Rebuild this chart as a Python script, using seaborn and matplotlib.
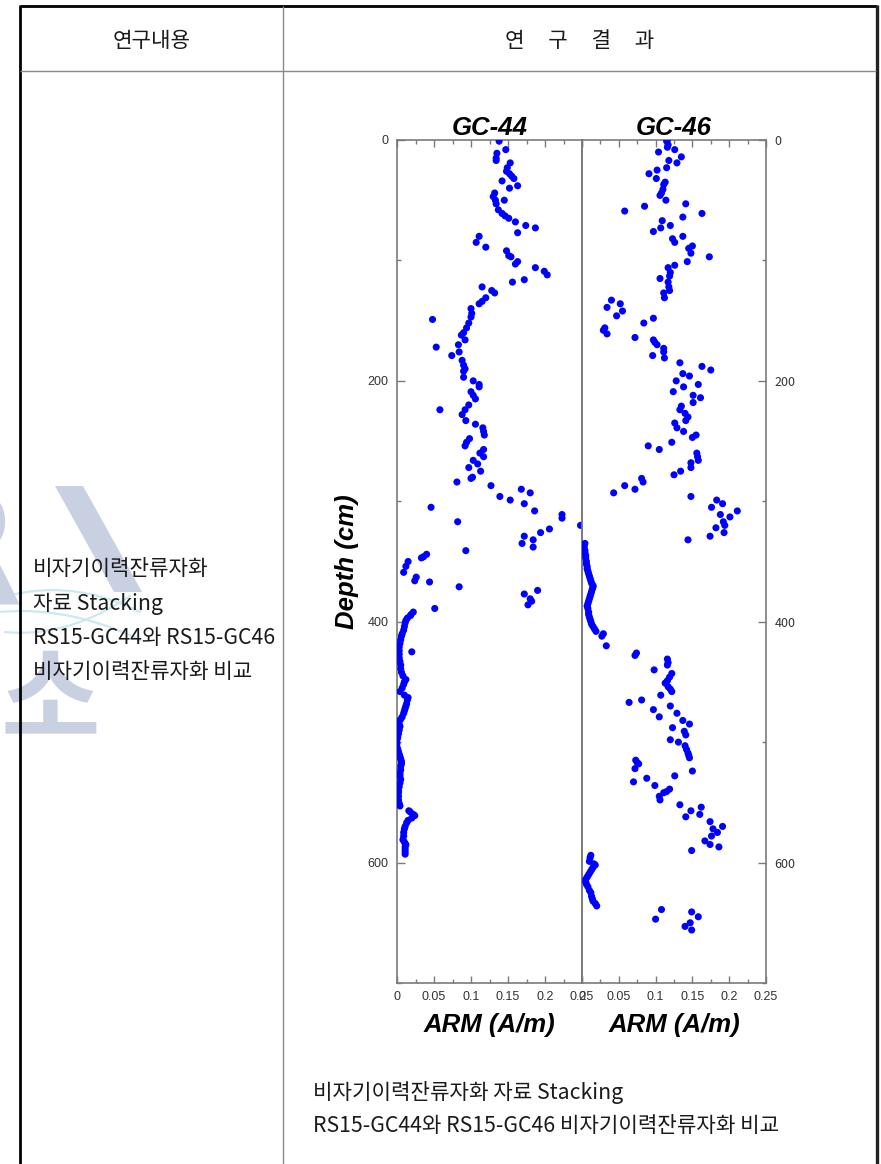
import numpy as np
import pandas as pd
import matplotlib
matplotlib.use("Agg")
import matplotlib.pyplot as plt
import seaborn as sns
from matplotlib.lines import Line2D
from matplotlib.patches import Polygon
from matplotlib.ticker import MultipleLocator, FormatStrFormatter

# ---------------------------------------------------------------- data
# RS15-GC44 : depth (cm) and ARM (A/m)
gc44_depth = [1, 8, 11, 15, 17, 19, 23, 26, 28, 30, 32, 34, 38, 40, 44, 47, 50, 50, 53,
              58, 61, 63, 65, 68, 71, 73, 77, 80, 85, 89, 92, 96, 97, 101, 103, 106, 109,
              112, 116, 118, 122, 125, 127, 131, 134, 136, 140, 144, 147, 149, 152, 156,
              160, 162, 166, 170, 172, 176, 179, 183, 187, 190, 192, 197, 200, 203, 205,
              209, 212, 215, 220, 224, 224, 228, 233, 236, 239, 242, 245, 248, 251, 254,
              257, 260, 263, 266, 269, 272, 275, 280, 281, 284, 287, 290, 293, 296, 299,
              302, 305, 308, 311, 314, 317, 320, 323, 326, 329, 332, 335, 338, 341, 344,
              346, 347, 350, 354, 359, 363, 366, 367, 371, 374, 377, 381, 383, 386, 389,
              392, 394, 395, 397, 399, 401, 404, 407, 410, 412, 415, 418, 421, 425, 424,
              427, 430, 433, 436, 439, 442, 445, 448, 450, 452, 455, 458, 461, 463, 465,
              468, 470, 472, 474, 476, 479, 481, 483, 485, 487, 490, 493, 496, 498, 501,
              504, 506, 508, 510, 512, 514, 516, 518, 520, 523, 526, 528, 531, 534, 537,
              540, 542, 545, 548, 551, 553, 557, 558, 560, 561, 563, 565, 567, 570, 572,
              575, 578, 581, 583, 585, 587, 589, 591, 593]
gc44_arm = [0.138, 0.147, 0.135, 0.134, 0.134, 0.153, 0.149, 0.148, 0.152, 0.155, 0.158,
            0.142, 0.163, 0.152, 0.132, 0.130, 0.133, 0.145, 0.134, 0.137, 0.142, 0.146,
            0.151, 0.160, 0.174, 0.187, 0.163, 0.111, 0.107, 0.120, 0.148, 0.151, 0.154,
            0.163, 0.160, 0.187, 0.199, 0.203, 0.172, 0.156, 0.115, 0.128, 0.132, 0.120,
            0.115, 0.111, 0.100, 0.101, 0.100, 0.048, 0.097, 0.094, 0.090, 0.087, 0.092,
            0.083, 0.053, 0.084, 0.074, 0.088, 0.090, 0.092, 0.090, 0.090, 0.103, 0.111,
            0.111, 0.100, 0.103, 0.106, 0.097, 0.092, 0.058, 0.088, 0.093, 0.106, 0.116,
            0.117, 0.118, 0.098, 0.094, 0.092, 0.117, 0.112, 0.117, 0.103, 0.109, 0.097,
            0.113, 0.102, 0.100, 0.081, 0.127, 0.168, 0.180, 0.139, 0.153, 0.172, 0.046,
            0.186, 0.223, 0.223, 0.082, 0.248, 0.206, 0.194, 0.172, 0.184, 0.169, 0.184,
            0.093, 0.040, 0.036, 0.033, 0.015, 0.012, 0.009, 0.026, 0.024, 0.044, 0.084,
            0.190, 0.172, 0.180, 0.182, 0.177, 0.051, 0.022, 0.019, 0.018, 0.014, 0.012,
            0.011, 0.010, 0.009, 0.007, 0.006, 0.005, 0.004, 0.003, 0.020, 0.003, 0.003,
            0.003, 0.004, 0.005, 0.005, 0.006, 0.008, 0.012, 0.010, 0.009, 0.007, 0.004,
            0.010, 0.015, 0.014, 0.013, 0.012, 0.011, 0.010, 0.009, 0.007, 0.005, 0.002,
            0.003, 0.004, 0.003, 0.002, 0.001, 0.000, 0.000, 0.000, 0.001, 0.002, 0.003,
            0.004, 0.005, 0.006, 0.006, 0.005, 0.005, 0.004, 0.004, 0.005, 0.004, 0.003,
            0.002, 0.002, 0.002, 0.002, 0.003, 0.004, 0.016, 0.018, 0.022, 0.024, 0.020,
            0.015, 0.013, 0.011, 0.010, 0.009, 0.009, 0.008, 0.010, 0.012, 0.011, 0.011,
            0.011, 0.011]

# RS15-GC46 : depth (cm) and ARM (A/m)
gc46_depth = [0, 1, 4, 6, 8, 10, 14, 17, 19, 23, 25, 28, 32, 35, 37, 41, 44, 46, 50, 53,
              55, 59, 61, 64, 67, 71, 73, 76, 80, 82, 85, 88, 90, 94, 97, 101, 104, 106,
              110, 113, 115, 118, 122, 125, 127, 131, 133, 136, 139, 142, 146, 148, 152,
              156, 158, 161, 164, 166, 168, 170, 173, 176, 179, 181, 185, 188, 191, 194,
              196, 200, 203, 205, 209, 212, 214, 218, 221, 224, 227, 230, 233, 235, 239,
              242, 245, 247, 251, 254, 257, 260, 263, 266, 268, 272, 275, 278, 281, 284,
              287, 290, 293, 296, 299, 302, 305, 308, 311, 313, 317, 320, 322, 326, 329,
              332, 335, 337, 339, 341, 343, 345, 347, 350, 352, 354, 356, 358, 360, 362,
              364, 366, 368, 370, 371, 373, 375, 377, 379, 381, 383, 385, 387, 389, 392,
              394, 396, 398, 400, 402, 404, 406, 408, 410, 412, 420, 426, 428, 431, 434,
              436, 440, 443, 446, 449, 451, 454, 456, 458, 461, 465, 467, 470, 473, 476,
              479, 482, 485, 488, 491, 494, 498, 500, 503, 506, 509, 511, 513, 515, 517,
              518, 522, 524, 528, 530, 533, 536, 539, 541, 542, 545, 548, 552, 554, 557,
              560, 562, 566, 570, 572, 575, 578, 582, 585, 587, 590, 594, 596, 599, 601,
              602, 604, 606, 608, 610, 612, 614, 616, 618, 620, 623, 625, 628, 630, 632,
              634, 636, 639, 641, 645, 647, 650, 653, 656]
gc46_arm = [0.116, 0.115, 0.117, 0.116, 0.126, 0.104, 0.135, 0.118, 0.129, 0.115, 0.102,
            0.091, 0.101, 0.113, 0.111, 0.110, 0.108, 0.106, 0.114, 0.141, 0.085, 0.058,
            0.163, 0.137, 0.109, 0.120, 0.107, 0.097, 0.137, 0.123, 0.126, 0.150, 0.145,
            0.148, 0.173, 0.143, 0.126, 0.117, 0.120, 0.119, 0.106, 0.117, 0.118, 0.119,
            0.111, 0.112, 0.040, 0.052, 0.034, 0.055, 0.047, 0.097, 0.084, 0.031, 0.029,
            0.034, 0.072, 0.097, 0.099, 0.102, 0.111, 0.111, 0.096, 0.112, 0.133, 0.163,
            0.175, 0.137, 0.146, 0.128, 0.158, 0.138, 0.124, 0.151, 0.161, 0.151, 0.135,
            0.133, 0.140, 0.144, 0.141, 0.126, 0.129, 0.138, 0.155, 0.150, 0.122, 0.090,
            0.105, 0.156, 0.157, 0.158, 0.148, 0.148, 0.134, 0.125, 0.081, 0.083, 0.058,
            0.072, 0.043, 0.148, 0.183, 0.191, 0.176, 0.211, 0.188, 0.201, 0.192, 0.194,
            0.182, 0.193, 0.174, 0.144, 0.004, 0.003, 0.003, 0.004, 0.004, 0.005, 0.005,
            0.006, 0.006, 0.007, 0.007, 0.008, 0.009, 0.010, 0.011, 0.012, 0.013, 0.015,
            0.015, 0.014, 0.013, 0.012, 0.011, 0.010, 0.009, 0.008, 0.007, 0.008, 0.009,
            0.009, 0.010, 0.011, 0.012, 0.013, 0.015, 0.017, 0.019, 0.029, 0.027, 0.033,
            0.074, 0.072, 0.116, 0.117, 0.116, 0.098, 0.122, 0.119, 0.116, 0.113, 0.117,
            0.120, 0.122, 0.107, 0.081, 0.064, 0.120, 0.097, 0.129, 0.105, 0.137, 0.146,
            0.123, 0.139, 0.141, 0.120, 0.131, 0.140, 0.142, 0.144, 0.145, 0.146, 0.073,
            0.075, 0.077, 0.072, 0.150, 0.126, 0.088, 0.070, 0.099, 0.119, 0.115, 0.111,
            0.105, 0.106, 0.133, 0.162, 0.148, 0.160, 0.141, 0.174, 0.191, 0.178, 0.184,
            0.176, 0.167, 0.174, 0.186, 0.149, 0.012, 0.011, 0.010, 0.016, 0.018, 0.015,
            0.013, 0.011, 0.009, 0.007, 0.005, 0.005, 0.006, 0.008, 0.010, 0.012, 0.013,
            0.014, 0.015, 0.018, 0.020, 0.108, 0.149, 0.158, 0.100, 0.147, 0.140, 0.149]

core_titles = ["GC-44", "GC-46"]
depth_ticks = [0, 200, 400, 600]
arm_ticks = [0, 0.05, 0.1, 0.15, 0.2, 0.25]

header_left = "연구내용"
header_right = "연     구     결     과"
body_lines = ["비자기이력잔류자화", "자료 Stacking",
              "RS15-GC44와 RS15-GC46", "비자기이력잔류자화 비교"]
caption_lines = ["비자기이력잔류자화 자료 Stacking",
                 "RS15-GC44와 RS15-GC46 비자기이력잔류자화 비교"]

# ---------------------------------------------------------------- style
sns.set_theme(style="white")
plt.rcParams["font.family"] = ["Noto Sans CJK KR", "DejaVu Sans"]
LAT = ["Liberation Sans", "DejaVu Sans"]
KOR = ["Noto Sans CJK KR", "DejaVu Sans"]

W, H = 881, 1164
fig = plt.figure(figsize=(W / 100, H / 100), dpi=100)
fig.patch.set_facecolor("white")


def fx(px):
    return px / W


def fy(py):
    return 1 - py / H


# ---------------------------------------------------------------- faint logo behind the left column
wm = "#c9d0e2"
fig.text(fx(22), fy(604), "R", ha="right", va="baseline", fontsize=112,
         fontweight="bold", color=wm, family=["DejaVu Sans"], zorder=0)
fig.add_artist(Polygon([(fx(55), fy(486)), (fx(83), fy(486)), (fx(142), fy(592)),
                        (fx(114), fy(592))], closed=True, transform=fig.transFigure,
                       facecolor=wm, edgecolor="none", zorder=0))
fig.text(fx(50), fy(704), "소", ha="center", va="center", fontsize=78,
         fontweight="bold", color=wm, family=KOR, zorder=0)
t = np.linspace(0, 1, 60)
for (x0, y0, x1, y1, bow) in [(0, 598, 140, 612, -14), (0, 612, 140, 640, -10),
                              (5, 632, 130, 596, 12)]:
    xs = x0 + (x1 - x0) * t
    ys = y0 + (y1 - y0) * t + bow * 4 * t * (1 - t)
    fig.add_artist(Line2D(fx(xs), fy(ys), transform=fig.transFigure,
                          color="#cde8f2", lw=1.6, zorder=0))

# ---------------------------------------------------------------- table frame
frame = [((19.5, 6), (877, 6), "black", 2.0),
         ((19.5, 5), (19.5, 1164), "black", 2.0),
         ((877, 5), (877, 1164), "#222222", 2.4),
         ((20, 71), (876, 71), "#8a8a8a", 1.0),
         ((283, 6), (283, 1164), "#8a8a8a", 1.0)]
for (x0, y0), (x1, y1), c, lw in frame:
    fig.add_artist(Line2D([fx(x0), fx(x1)], [fy(y0), fy(y1)], transform=fig.transFigure,
                          color=c, lw=lw, solid_capstyle="butt", zorder=3))

txt_kw = dict(family=KOR, fontsize=15.3, color="#1a1a1a")
fig.text(fx(152), fy(41), header_left, ha="center", va="center", **txt_kw)
fig.text(fx(579.5), fy(41), header_right, ha="center", va="center", **txt_kw)
for i, line in enumerate(body_lines):
    fig.text(fx(33), fy(569 + 34.5 * i), line, ha="left", va="center", **txt_kw)
for i, line in enumerate(caption_lines):
    fig.text(fx(313), fy(1093 + 32.5 * i), line, ha="left", va="center", **txt_kw)

# ---------------------------------------------------------------- the two ARM profiles
ax44 = fig.add_axes([fx(397), fy(983), (582 - 397) / W, (983 - 140) / H])
ax46 = fig.add_axes([fx(582), fy(983), (766 - 582) / W, (983 - 140) / H])

cores = [(ax44, gc44_arm, gc44_depth, core_titles[0]),
         (ax46, gc46_arm, gc46_depth, core_titles[1])]

spine_c = "#7a7a7a"
for ax, arm, depth, title in cores:
    df = pd.DataFrame({"ARM": arm, "Depth": depth})
    sns.scatterplot(data=df, x="ARM", y="Depth", ax=ax, color="#0000ff", s=26,
                    linewidth=0, edgecolor="none", legend=False, zorder=3)
    ax.set_xlim(0, 0.25)
    ax.set_ylim(700, 0)
    ax.set_facecolor("none")
    for sp in ax.spines.values():
        sp.set_color(spine_c)
        sp.set_linewidth(1.2)

    ax.set_xticks(arm_ticks)
    ax.xaxis.set_major_formatter(FormatStrFormatter("%g"))
    ax.xaxis.set_minor_locator(MultipleLocator(0.025))
    ax.set_yticks(depth_ticks)
    ax.yaxis.set_minor_locator(MultipleLocator(100))
    ax.tick_params(axis="x", which="both", direction="in", top=True, bottom=True,
                   colors=spine_c, labelcolor="#333333", labelsize=9, pad=6)
    ax.tick_params(axis="x", which="major", length=5, width=1)
    ax.tick_params(axis="x", which="minor", length=3, width=1)
    ax.tick_params(axis="y", which="major", length=6, width=1, direction="in",
                   colors=spine_c, labelcolor="#333333", labelsize=9, pad=6)
    ax.tick_params(axis="y", which="minor", length=3, width=1, direction="in",
                   colors=spine_c)
    for lab in ax.get_xticklabels() + ax.get_yticklabels():
        lab.set_family(LAT)

    ax.set_title(title, fontsize=18.5, fontweight="bold", style="italic",
                 family=LAT, pad=3, color="black")
    ax.set_xlabel("ARM (A/m)", fontsize=18.5, fontweight="bold", style="italic",
                  family=LAT, labelpad=7, color="black")
    ax.set_ylabel("")
    ax.grid(False)

ax44.tick_params(axis="y", which="both", left=True, right=False,
                 labelleft=True, labelright=False)
ax44.set_ylabel("Depth (cm)", fontsize=18.5, fontweight="bold", style="italic",
                family=LAT, labelpad=6, color="black")
ax46.tick_params(axis="y", which="both", left=False, right=True,
                 labelleft=False, labelright=True)

fig.savefig("out.png", dpi=100, facecolor="white")
